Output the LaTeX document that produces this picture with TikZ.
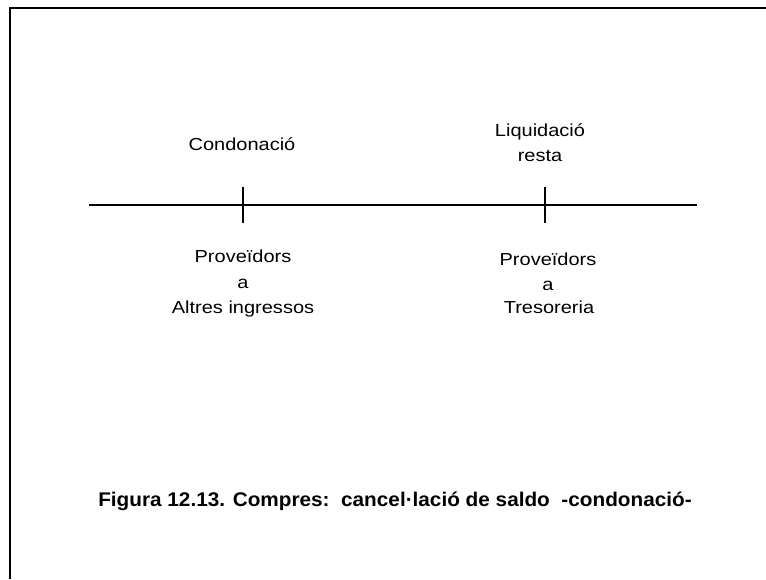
\documentclass[tikz,border=0pt]{standalone}
\usepackage{fontspec}
\usepackage{graphicx}
\setmainfont{Liberation Sans}
\tikzset{
  lbl/.style={anchor=base, inner sep=0pt, font=\fontsize{17.4}{20}\selectfont},
  captext/.style={anchor=base, inner sep=0pt, font=\fontsize{19.8}{23}\selectfont\bfseries},
  axis/.style={line width=2.4pt, black},
  frame/.style={line width=2.4pt, black}
}
\newcommand{\sx}[1]{\scalebox{1.15}[1]{#1}}
\begin{document}
\begin{tikzpicture}[x=1pt, y=-1pt]
\useasboundingbox (0,0) rectangle (766,579);
% frame
\coordinate (ftr) at (766,8);
\coordinate (ftl) at (10,8);
\coordinate (fbl) at (10,579);
\draw[frame] (ftr) -- (ftl) -- (fbl);
% timeline
\coordinate (a0) at (89,205);
\coordinate (a1) at (697,205);
\draw[axis] (a0) -- (a1);
\coordinate (t1a) at (243,187);
\coordinate (t1b) at (243,223);
\coordinate (t2a) at (545,187);
\coordinate (t2b) at (545,223);
\draw[axis] (t1a) -- (t1b);
\draw[axis] (t2a) -- (t2b);
% labels above
\node[lbl] (cond) at (242,150.5) {\sx{Condonació}};
\node[lbl] (liq) at (540,136) {\sx{Liquidació}};
\node[lbl] (resta) at (540,161.5) {\sx{resta}};
% labels below left
\node[lbl] (p1) at (243,262) {\sx{Proveïdors}};
\node[lbl] (a1t) at (243,288) {\sx{a}};
\node[lbl] (alt) at (243,313.5) {\sx{Altres ingressos}};
% labels below right
\node[lbl] (p2) at (548,265) {\sx{Proveïdors}};
\node[lbl] (a2t) at (548,290) {\sx{a}};
\node[lbl] (tres) at (549,313.5) {\sx{Tresoreria}};
% caption
\node[captext] (caption) at (395,506.5) {\scalebox{1.048}[1]{Figura 12.13. Compres:\ \ cancel·lació de saldo\ \ -condonació-}};
\end{tikzpicture}
\end{document}
